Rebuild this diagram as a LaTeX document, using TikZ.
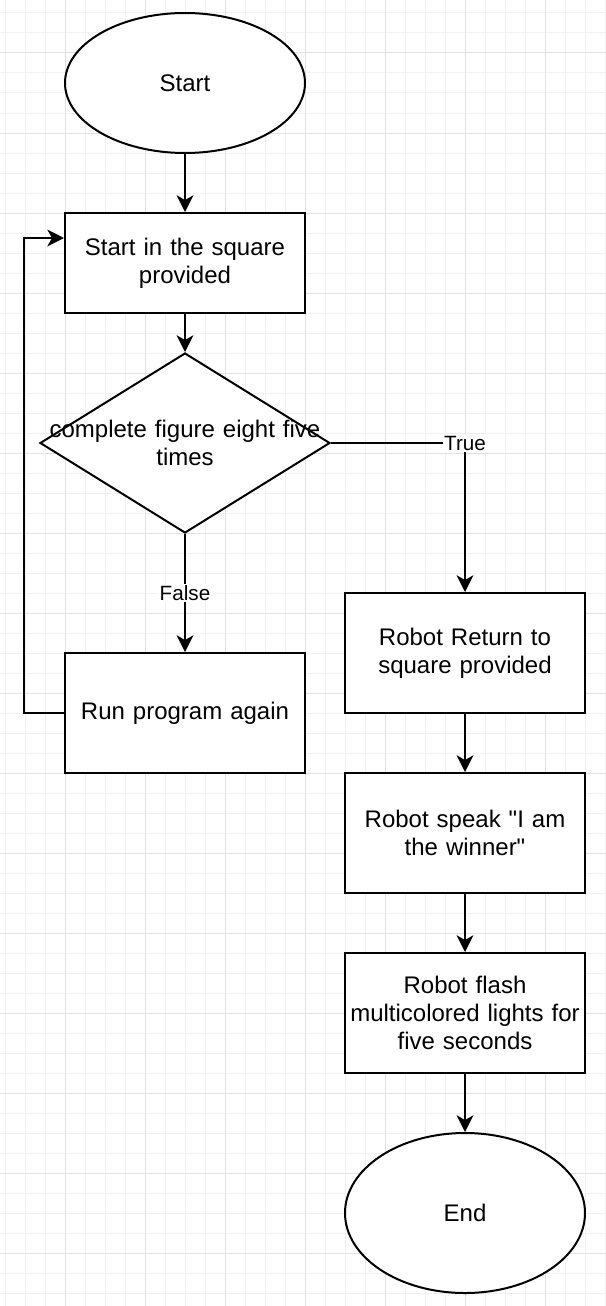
\documentclass[tikz,border=0pt]{standalone}
\usepackage{fontspec}
\setmainfont{Liberation Sans}
\usetikzlibrary{shapes.geometric,arrows.meta}
\definecolor{gridminor}{HTML}{F1F1F1}
\definecolor{gridmajor}{HTML}{E2E2E2}
\begin{document}
\begin{tikzpicture}[x=0.75pt,y=-0.75pt,
  base/.style={draw=black,line width=1.5pt,fill=white,font=\fontsize{18pt}{21pt}\selectfont},
  term/.style={base,ellipse,minimum width=180pt,inner sep=0pt},
  proc/.style={base,rectangle,minimum width=180pt,text width=174pt,inner sep=3pt,align=center},
  dec/.style={base,diamond,minimum width=217.5pt,minimum height=135pt,inner sep=0pt},
  dectext/.style={font=\fontsize{18pt}{21pt}\selectfont,text width=210pt,align=center,inner sep=0pt},
  arr/.style={draw=black,line width=1.5pt,-{Stealth[length=12.5pt,width=12.5pt,inset=3.5pt]}},
  lbl/.style={fill=white,inner sep=1pt,font=\fontsize{15.5pt}{18pt}\selectfont}]
\useasboundingbox (0,0) rectangle (606,1306);
\fill[white] (0,0) rectangle (606,1306);
\foreach \x in {5,25,...,605} \draw[gridminor,line width=0.75pt] (\x,0) -- (\x,1306);
\foreach \y in {13,33,...,1305} \draw[gridminor,line width=0.75pt] (0,\y) -- (606,\y);
\foreach \x in {65,145,...,605} \draw[gridmajor,line width=0.75pt] (\x,0) -- (\x,1306);
\foreach \y in {53,133,...,1305} \draw[gridmajor,line width=0.75pt] (0,\y) -- (606,\y);

\node[term,minimum height=105pt] (start) at (185,83) {Start};
\node[proc,minimum height=75pt] (box1) at (185,263) {Start in the square\\provided};
\node[dec] (dia) at (185,443) {};
\node[dectext] (diatext) at (185,443) {complete figure eight five\\times};
\node[proc,minimum height=90pt] (run) at (185,713) {Run program again};
\node[proc,minimum height=90pt] (ret) at (465,653) {Robot Return to\\square provided};
\node[proc,minimum height=90pt] (speak) at (465,833) {Robot speak \textquotedbl I am\\the winner\textquotedbl};
\node[proc,minimum height=90pt] (flash) at (465,1013) {Robot flash\\multicolored lights for\\five seconds};
\node[term,minimum height=120pt] (end) at (465,1213) {End};

\draw[arr] (start.south) -- (box1.north);
\draw[arr] (box1.south) -- (dia.north);
\draw[arr] (dia.east) -| node[lbl] {True} (ret.north);
\draw[arr] (dia.south) -- node[lbl] {False} (run.north);
\draw[arr] (run.west) -- ++(-40,0) |- ([yshift=18.75pt]box1.west);
\draw[arr] (ret.south) -- (speak.north);
\draw[arr] (speak.south) -- (flash.north);
\draw[arr] (flash.south) -- (end.north);
\end{tikzpicture}
\end{document}
